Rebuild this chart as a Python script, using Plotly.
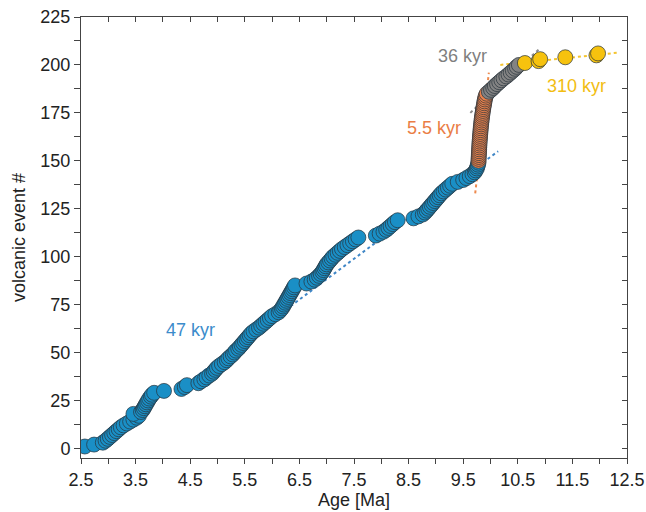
import plotly.graph_objects as go

# ---------------- data ----------------
blue_age = [2.57, 2.74, 2.90, 2.95, 2.99, 3.03, 3.07, 3.11, 3.15, 3.19,
            3.23, 3.28, 3.34, 3.40, 3.46, 3.52, 3.56, 3.46, 3.60, 3.63,
            3.65, 3.67, 3.69, 3.71, 3.73, 3.75, 3.78, 3.80, 3.84, 4.02,
            4.34, 4.40, 4.44, 4.65, 4.70, 4.76, 4.80, 4.85, 4.90, 4.93,
            4.96, 4.99, 5.03, 5.08, 5.13, 5.17, 5.20, 5.24, 5.28, 5.31,
            5.34, 5.38, 5.41, 5.44, 5.47, 5.50, 5.53, 5.56, 5.59, 5.62,
            5.66, 5.71, 5.76, 5.80, 5.84, 5.88, 5.92, 5.96, 6.00, 6.06,
            6.12, 6.15, 6.18, 6.20, 6.22, 6.24, 6.26, 6.28, 6.30, 6.32,
            6.34, 6.36, 6.38, 6.40, 6.42, 6.63, 6.72, 6.78, 6.82, 6.86,
            6.89, 6.92, 6.94, 6.96, 6.98, 7.00, 7.03, 7.06, 7.09, 7.12,
            7.16, 7.20, 7.24, 7.28, 7.33, 7.38, 7.43, 7.48, 7.53, 7.58,
            7.90, 7.97, 8.04, 8.09, 8.13, 8.17, 8.21, 8.25, 8.30, 8.59,
            8.68, 8.76, 8.80, 8.83, 8.86, 8.89, 8.92, 8.95, 8.98, 9.01,
            9.04, 9.07, 9.10, 9.14, 9.18, 9.22, 9.26, 9.30, 9.40, 9.50,
            9.56, 9.62, 9.67, 9.71, 9.73, 9.75, 9.76, 9.77, 9.78]
blue_n = list(range(1, 150))

orange_age = [9.780, 9.782, 9.784, 9.786, 9.788, 9.790, 9.792, 9.794, 9.796,
              9.798, 9.800, 9.803, 9.806, 9.809, 9.812, 9.815, 9.818, 9.821,
              9.824, 9.828, 9.832, 9.836, 9.840, 9.845, 9.850, 9.855, 9.860,
              9.866, 9.872, 9.878, 9.884, 9.890, 9.897, 9.905, 9.915, 9.930]
orange_n = list(range(150, 186))

gray_age = [9.97, 10.01, 10.05, 10.08, 10.12, 10.16, 10.20, 10.24,
            10.29, 10.33, 10.37, 10.41, 10.45, 10.48, 10.52]
gray_n = list(range(186, 201))

yellow_age = [10.63, 10.88, 10.91, 11.37, 11.94, 11.97]
yellow_n = list(range(201, 207))

# fitted rate lines (endpoints)
blue_fit_age = [4.40, 10.14]
blue_fit_n = [33, 155]
orange_fit_age = [9.72, 9.97]
orange_fit_n = [133, 196]
gray_fit_age = [9.63, 10.88]
gray_fit_n = [175, 208]
yellow_fit_age = [10.18, 12.33]
yellow_fit_n = [200, 206.4]

x_tick_vals = [2.5, 3.5, 4.5, 5.5, 6.5, 7.5, 8.5, 9.5, 10.5, 11.5, 12.5]
y_tick_vals = [0, 25, 50, 75, 100, 125, 150, 175, 200, 225]

BLUE = "#1a8fc6"
ORANGE = "#e9814b"
GRAY = "#838383"
YELLOW = "#f6c20e"
FONT = "Liberation Sans, Arial, sans-serif"

fig = go.Figure()

def fit(xs, ys, color):
    fig.add_trace(go.Scatter(x=xs, y=ys, mode="lines",
                             line=dict(color=color, width=2, dash="dot"),
                             hoverinfo="skip", showlegend=False))

fit(blue_fit_age, blue_fit_n, "#3f86c6")
fit(orange_fit_age, orange_fit_n, "#ee8a4e")
fit(gray_fit_age, gray_fit_n, "#8c8c8c")
fit(yellow_fit_age, yellow_fit_n, "#f4c430")

def pts(xs, ys, color):
    fig.add_trace(go.Scatter(x=xs, y=ys, mode="markers",
                             marker=dict(size=15, color=color,
                                         line=dict(color="#26323b", width=0.7)),
                             showlegend=False))

pts(blue_age, blue_n, BLUE)
pts(orange_age, orange_n, ORANGE)
pts(gray_age, gray_n, GRAY)
pts(yellow_age, yellow_n, YELLOW)

# invisible trace to materialise mirror axes
fig.add_trace(go.Scatter(x=[3], y=[100], xaxis="x2", yaxis="y2",
                         mode="markers", marker=dict(opacity=0),
                         showlegend=False, hoverinfo="skip"))

XR = [2.5, 12.5]
YR = [-5, 225]

fig.update_layout(
    width=646, height=512,
    margin=dict(l=81, r=19, t=17, b=54),
    paper_bgcolor="white", plot_bgcolor="white",
    font=dict(family=FONT, size=18, color="#222"),
    xaxis=dict(range=XR, tickvals=x_tick_vals, automargin=False,
               ticktext=[str(v) for v in x_tick_vals],
               ticks="outside", ticklen=5, tickcolor="#444",
               minor=dict(dtick=0.5, tick0=2.5, ticks="outside", ticklen=5, tickcolor="#444"),
               showline=True, linecolor="#444", linewidth=1,
               showgrid=False, zeroline=False,
               title=dict(text="Age [Ma]", standoff=2, font=dict(size=18)),
               tickfont=dict(size=18)),
    yaxis=dict(range=YR, tickvals=y_tick_vals, automargin=False,
               ticks="outside", ticklen=6, tickcolor="#444",
               minor=dict(dtick=12.5, tick0=0, ticks="outside", ticklen=6, tickcolor="#444"),
               showline=True, linecolor="#444", linewidth=1,
               showgrid=False, zeroline=False,
               title=dict(text="volcanic event #", standoff=10, font=dict(size=18)),
               tickfont=dict(size=18)),
    xaxis2=dict(range=XR, overlaying="x", side="top", anchor="y2", automargin=False,
                tickvals=[2.5 + 0.5 * i for i in range(21)],
                ticks="inside", ticklen=5, tickcolor="#444",
                showticklabels=False, showline=True, linecolor="#444",
                linewidth=1, showgrid=False, zeroline=False),
    yaxis2=dict(range=YR, overlaying="y", side="right", anchor="x2", automargin=False,
                tickvals=[12.5 * i for i in range(19)],
                ticks="inside", ticklen=5, tickcolor="#444",
                showticklabels=False, showline=True, linecolor="#444",
                linewidth=1, showgrid=False, zeroline=False),
)

def label(text, x, y, color):
    fig.add_annotation(x=x, y=y, text=text, showarrow=False,
                       font=dict(size=18, color=color, family=FONT))

label("47 kyr", 4.51, 62, "#3b8ccb")
label("5.5 kyr", 8.97, 167, "#ea7d45")
label("36 kyr", 9.48, 204.7, "#7f7f7f")
label("310 kyr", 11.58, 189, "#f2bd12")

fig.write_html("out.html")
